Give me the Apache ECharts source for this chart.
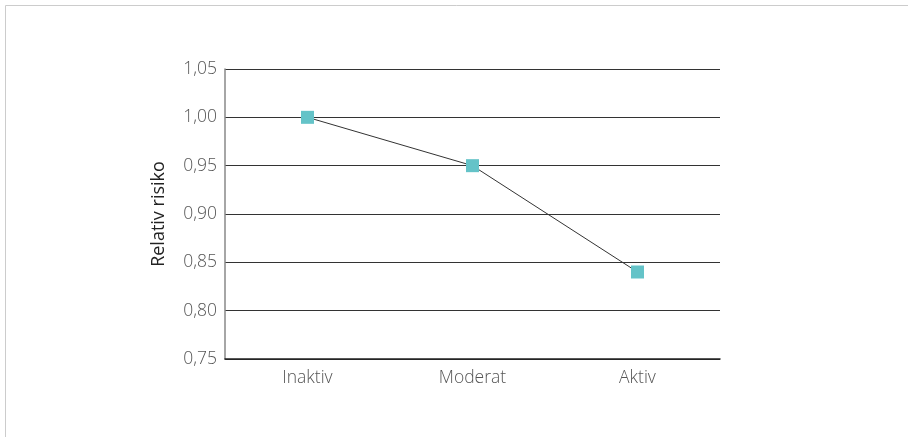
<!DOCTYPE html>
<html>
<head>
<meta charset="utf-8">
<script src="https://cdn.jsdelivr.net/npm/echarts@6/dist/echarts.min.js"></script>
<style>
  html, body { margin: 0; padding: 0; background: #fff; }
  #chart { width: 908px; height: 437px; }
</style>
</head>
<body>
<div id="chart"></div>
<script>
// Relative risk by activity level
const categories = ['Inaktiv', 'Moderat', 'Aktiv'];
const relativeRisk = [1.00, 0.95, 0.84];
const yTicks = { min: 0.75, max: 1.05, step: 0.05 };

const chart = echarts.init(document.getElementById('chart'), null, { renderer: 'canvas' });

const labelFont = '"Open Sans", sans-serif';

chart.setOption({
  animation: false,
  backgroundColor: '#ffffff',
  graphic: [
    { type: 'line', shape: { x1: 5.5, y1: 5.5, x2: 908, y2: 5.5 }, style: { stroke: '#cccccc', lineWidth: 1 } },
    { type: 'line', shape: { x1: 5.5, y1: 5.5, x2: 5.5, y2: 437 }, style: { stroke: '#cccccc', lineWidth: 1 } }
  ],
  grid: { left: 225, right: 188, top: 69, bottom: 78, containLabel: false },
  xAxis: {
    type: 'category',
    data: categories,
    boundaryGap: true,
    axisLine: { show: true, lineStyle: { color: '#222222', width: 1.5 } },
    axisTick: { show: false },
    axisLabel: {
      color: '#555555',
      fontFamily: labelFont,
      fontWeight: 300,
      fontSize: 17.5,
      margin: 10
    },
    splitLine: { show: false }
  },
  yAxis: {
    type: 'value',
    min: yTicks.min,
    max: yTicks.max,
    interval: yTicks.step,
    name: 'Relativ risiko',
    nameLocation: 'middle',
    nameGap: 57,
    nameTextStyle: {
      color: '#222222',
      fontFamily: labelFont,
      fontSize: 18
    },
    axisLine: { show: true, lineStyle: { color: '#888888', width: 1.5 } },
    axisTick: { show: false },
    axisLabel: {
      color: '#555555',
      fontFamily: labelFont,
      fontWeight: 300,
      fontSize: 17.5,
      margin: 8,
      formatter: v => v.toFixed(2).replace('.', ',')
    },
    splitLine: { show: true, lineStyle: { color: '#333333', width: 1 } }
  },
  series: [{
    type: 'line',
    data: relativeRisk,
    symbol: 'rect',
    symbolSize: 13,
    showSymbol: true,
    lineStyle: { color: '#333333', width: 1 },
    itemStyle: { color: '#64c3c8' },
    z: 3
  }]
});
</script>
</body>
</html>
